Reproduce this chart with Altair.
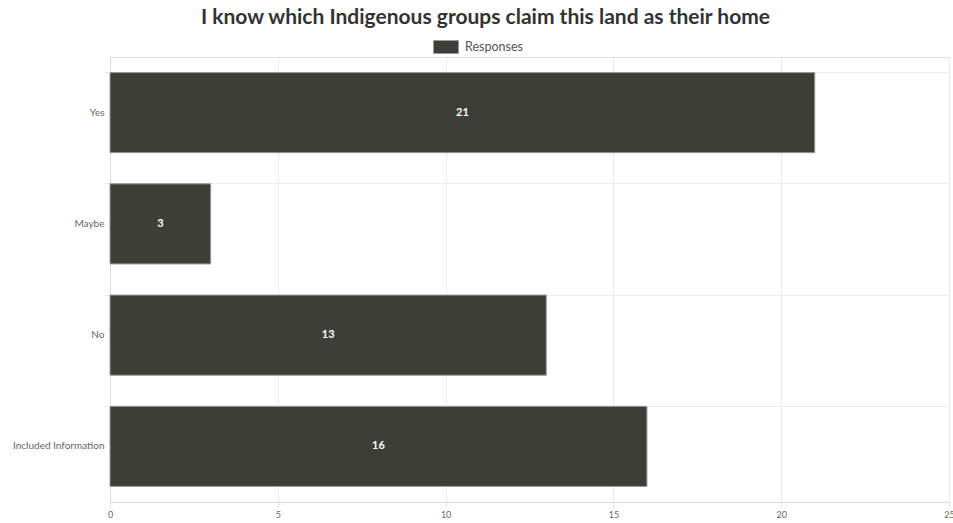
import altair as alt
import pandas as pd

categories = ["Yes", "Maybe", "No", "Included Information"]
responses = [21, 3, 13, 16]
x_ticks = [0, 5, 10, 15, 20, 25]

df = pd.DataFrame({"category": categories, "Responses": responses, "series": ["Responses"] * 4})

FONT = "Lato"
BAR = "#3e3e39"

y_enc = alt.Y(
    "category:N",
    sort=categories,
    title=None,
    scale=alt.Scale(paddingInner=0.28, paddingOuter=0.14),
    axis=alt.Axis(
        bandPosition=0,
        grid=True,
        gridColor="#ececec",
        tickColor="#e6e6e6",
        tickSize=6,
        domainColor="#d9d9d9",
        labelColor="#666666",
        labelFontSize=10,
        labelFont=FONT,
        labelPadding=0,
    ),
)
x_enc = alt.X(
    "Responses:Q",
    title=None,
    scale=alt.Scale(domain=[0, 25], nice=False),
    axis=alt.Axis(
        values=x_ticks,
        grid=True,
        gridColor="#ececec",
        tickColor="#e6e6e6",
        tickSize=6,
        domainColor="#d9d9d9",
        labelColor="#666666",
        labelFontSize=9,
        labelFont=FONT,
        labelPadding=2,
        labelFlush=False,
    ),
)

bars = alt.Chart(df).mark_bar(stroke="#9a9a96", strokeWidth=1).encode(
    y=y_enc,
    x=x_enc,
    color=alt.Color(
        "series:N",
        scale=alt.Scale(domain=["Responses"], range=[BAR]),
        legend=alt.Legend(
            title=None,
            orient="none",
            legendX=323,
            legendY=-23,
            direction="horizontal",
            symbolType="M-1,-0.52H1V0.52H-1Z",
            symbolSize=625,
            symbolStrokeColor="#9a9a96",
            symbolStrokeWidth=1,
            labelFont=FONT,
            labelFontSize=12.5,
            labelColor="#555555",
            labelOffset=6,
        ),
    ),
)

labels = alt.Chart(df).transform_calculate(mid="datum.Responses / 2").mark_text(
    color="white", fontWeight="bold", font=FONT, fontSize=11
).encode(
    y=alt.Y("category:N", sort=categories),
    x=alt.X("mid:Q"),
    text="Responses:Q",
)

chart = (
    alt.layer(bars, labels)
    .properties(
        width=839,
        height=445,
        autosize=alt.AutoSizeParams(type="none"),
        padding={"left": 110, "top": 57, "right": 4, "bottom": 21},
        title=alt.TitleParams(
            "I know which Indigenous groups claim this land as their home",
            font=FONT,
            fontSize=21,
            fontWeight="bold",
            color="#333333",
            anchor="middle",
            dx=-44,
            offset=6,
        ),
    )
    .configure_view(stroke="#ececec")
    .configure(background="white")
)

chart.save("out.html", embed_options={"renderer": "svg", "actions": False})
